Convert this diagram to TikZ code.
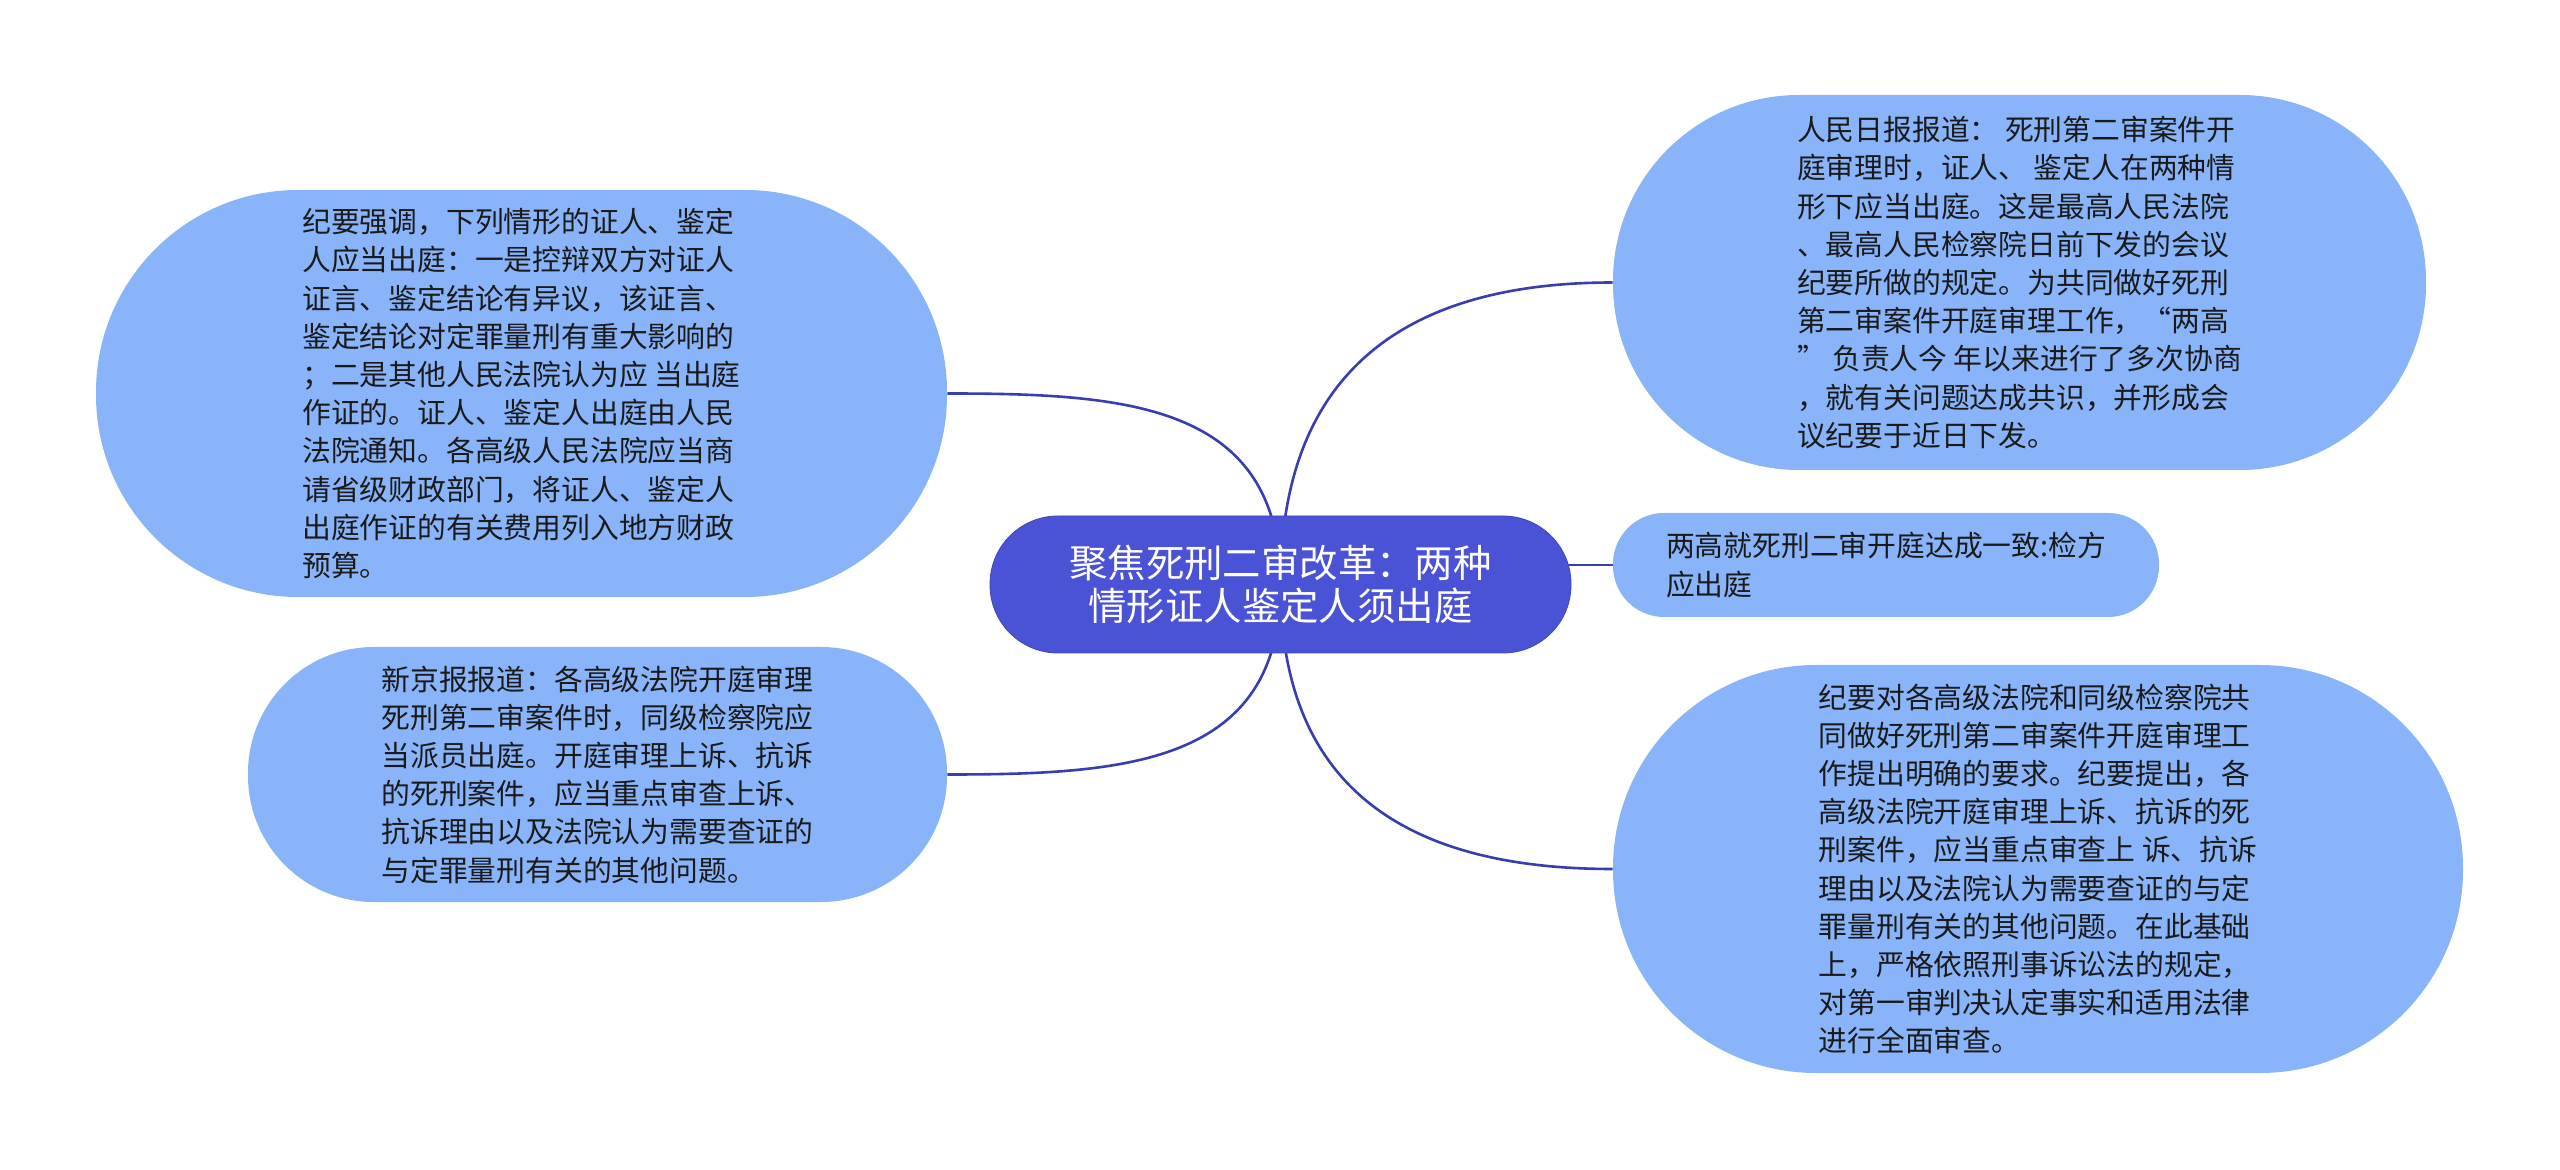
\documentclass[tikz,border=0pt]{standalone}
\usepackage{fontspec}
\setmainfont{Noto Sans CJK SC}
\usepackage{xcolor}
\usetikzlibrary{backgrounds}

\definecolor{rootblue}{RGB}{74,82,214}
\definecolor{leafblue}{RGB}{138,180,250}
\definecolor{linkblue}{RGB}{56,62,176}
\definecolor{leaftext}{RGB}{26,26,26}
\newcommand\leaffont{\fontsize{14.4pt}{19.1pt}\selectfont}

\begin{document}
\begin{tikzpicture}[x=0.5pt,y=0.5pt,
    topic/.style={fill=rootblue,draw=rootblue!85!black,line width=0.4pt,text=white,align=center,inner sep=0pt,font=\fontsize{19.2pt}{21.7pt}\selectfont},
    leaf/.style={fill=leafblue,text=leaftext,align=left,inner sep=0pt,font=\leaffont},
    link/.style={draw=linkblue,line width=1.3pt,looseness=1.2}]
    \useasboundingbox (0,0) rectangle (2560,1169);
    % central topic
    \node[topic,minimum width=290.5pt,minimum height=68.5pt,rounded corners=34pt] (root) at (1280.5,584.5) {聚焦死刑二审改革：两种\\情形证人鉴定人须出庭};
    % left branches
    \node[leaf,minimum width=425.5pt,minimum height=203.5pt,rounded corners=101pt] (l1) at (521.5,775.5) {纪要强调，下列情形的证人、鉴定\\人应当出庭：一是控辩双方对证人\\证言、鉴定结论有异议，该证言、\\鉴定结论对定罪量刑有重大影响的\\；二是其他人民法院认为应 当出庭\\作证的。证人、鉴定人出庭由人民\\法院通知。各高级人民法院应当商\\请省级财政部门，将证人、鉴定人\\出庭作证的有关费用列入地方财政\\预算。};
    \node[leaf,minimum width=349.5pt,minimum height=127.5pt,rounded corners=63pt] (l2) at (597.5,394.5) {新京报报道：各高级法院开庭审理\\死刑第二审案件时，同级检察院应\\当派员出庭。开庭审理上诉、抗诉\\的死刑案件，应当重点审查上诉、\\抗诉理由以及法院认为需要查证的\\与定罪量刑有关的其他问题。};
    % right branches
    \node[leaf,minimum width=406.5pt,minimum height=187.5pt,rounded corners=93pt] (r1) at (2019.5,886.5) {人民日报报道： 死刑第二审案件开\\庭审理时，证人、 鉴定人在两种情\\形下应当出庭。这是最高人民法院\\、最高人民检察院日前下发的会议\\纪要所做的规定。为共同做好死刑\\第二审案件开庭审理工作，“两高\\” 负责人今 年以来进行了多次协商\\，就有关问题达成共识，并形成会\\议纪要于近日下发。};
    \node[leaf,minimum width=273pt,minimum height=52pt,rounded corners=25.5pt] (r2) at (1886,604) {两高就死刑二审开庭达成一致:检方\\应出庭};
    \node[leaf,minimum width=425pt,minimum height=204pt,rounded corners=101.5pt] (r3) at (2038,300) {纪要对各高级法院和同级检察院共\\同做好死刑第二审案件开庭审理工\\作提出明确的要求。纪要提出，各\\高级法院开庭审理上诉、抗诉的死\\刑案件，应当重点审查上 诉、抗诉\\理由以及法院认为需要查证的与定\\罪量刑有关的其他问题。在此基础\\上，严格依照刑事诉讼法的规定，\\对第一审判决认定事实和适用法律\\进行全面审查。};
    % connectors, behind the nodes
    \begin{scope}[on background layer]
        \fill[white] (0,0) rectangle (2560,1169);
        \draw[link] (root.center) to[out=90,in=0] (l1.east);
        \draw[link] (root.center) to[out=-90,in=0] (l2.east);
        \draw[link] (root.center) to[out=90,in=180] (r1.west);
        \draw[link] (root.center |- r2.west) -- (r2.west);
        \draw[link] (root.center) to[out=-90,in=180] (r3.west);
    \end{scope}
\end{tikzpicture}
\end{document}
